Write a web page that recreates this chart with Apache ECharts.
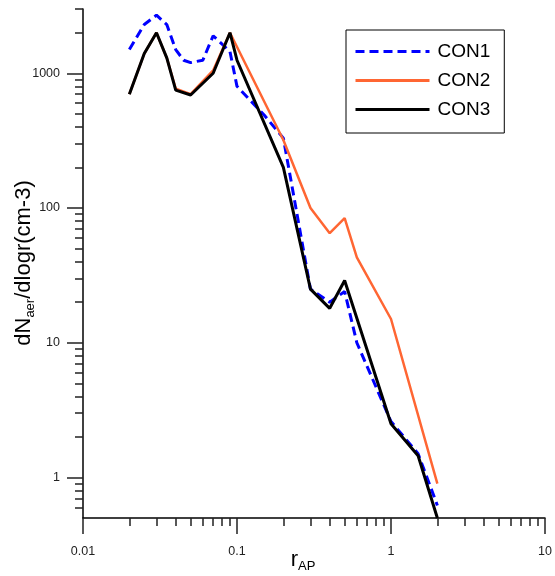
<!DOCTYPE html>
<html>
<head>
<meta charset="utf-8">
<script src="https://cdn.jsdelivr.net/npm/echarts@6/dist/echarts.min.js"></script>
<style>
html,body{margin:0;padding:0;background:#fff;}
#chart{width:555px;height:576px;}
</style>
</head>
<body>
<div id="chart"></div>
<script>
// ---- data ----
var seriesNames = ['CON1', 'CON2', 'CON3'];

var con1X = [0.02, 0.025, 0.03, 0.035, 0.04, 0.045, 0.05, 0.06, 0.07, 0.09, 0.1, 0.15, 0.2, 0.3, 0.4, 0.5, 0.6, 1, 1.5, 2];
var con1Y = [1500, 2300, 2700, 2300, 1500, 1250, 1200, 1250, 1900, 1450, 800, 490, 330, 25, 20, 24, 10, 2.6, 1.5, 0.62];

var con2X = [0.02, 0.025, 0.03, 0.035, 0.04, 0.05, 0.07, 0.09, 0.2, 0.3, 0.4, 0.5, 0.6, 1, 2];
var con2Y = [700, 1400, 2000, 1300, 770, 700, 1050, 2000, 320, 100, 65, 84, 43, 15, 0.9];

var con3X = [0.02, 0.025, 0.03, 0.035, 0.04, 0.05, 0.07, 0.09, 0.1, 0.2, 0.3, 0.4, 0.5, 1, 1.5, 2];
var con3Y = [700, 1400, 2000, 1300, 750, 690, 1000, 2000, 1250, 200, 25, 18, 29, 2.5, 1.45, 0.5];

var xMajorTicks = [0.01, 0.1, 1, 10];
var xMinorTicks = [0.02, 0.03, 0.04, 0.05, 0.06, 0.07, 0.08, 0.09,
                   0.2, 0.3, 0.4, 0.5, 0.6, 0.7, 0.8, 0.9,
                   2, 3, 4, 5, 6, 7, 8, 9];
var yMajorTicks = [1, 10, 100, 1000];
var yMinorTicks = [0.6, 0.7, 0.8, 0.9,
                   2, 3, 4, 5, 6, 7, 8, 9,
                   20, 30, 40, 50, 60, 70, 80, 90,
                   200, 300, 400, 500, 600, 700, 800, 900,
                   2000, 3000];

var xRange = [0.01, 10];
var yRange = [0.5, 3000];

// ---- build ----
function pairs(xs, ys) {
  var out = [];
  for (var i = 0; i < xs.length; i++) out.push([xs[i], ys[i]]);
  return out;
}

var FONT = 'Liberation Sans, Arial, sans-serif';
var chart = echarts.init(document.getElementById('chart'), null, {renderer: 'canvas'});

var option = {
  backgroundColor: '#ffffff',
  animation: false,
  grid: {left: 83, right: 10, top: 9, bottom: 58, containLabel: false},
  xAxis: [
    {
      type: 'log', logBase: 10, min: xRange[0], max: xRange[1], position: 'bottom',
      axisLine: {show: true, lineStyle: {color: '#000', width: 1.5}},
      axisTick: {show: true, length: 16, customValues: xMajorTicks, lineStyle: {color: '#222', width: 1.5}},
      axisLabel: {show: true, customValues: xMajorTicks, margin: 27, fontSize: 12.5, fontFamily: FONT, color: '#222',
        formatter: function (v) { return String(+v.toPrecision(6)); }},
      splitLine: {show: false}, minorTick: {show: false}
    },
    {
      type: 'log', logBase: 10, min: xRange[0], max: xRange[1], position: 'bottom', gridIndex: 0,
      axisLine: {show: false},
      axisTick: {show: true, length: 8, customValues: xMinorTicks, lineStyle: {color: '#222', width: 1.5}},
      axisLabel: {show: false},
      splitLine: {show: false}
    }
  ],
  yAxis: [
    {
      type: 'log', logBase: 10, min: yRange[0], max: yRange[1], position: 'left',
      axisLine: {show: true, lineStyle: {color: '#000', width: 1.5}},
      axisTick: {show: true, length: 16, customValues: yMajorTicks, lineStyle: {color: '#222', width: 1.5}},
      axisLabel: {show: true, customValues: yMajorTicks, margin: 23, fontSize: 12.5, fontFamily: FONT, color: '#222',
        formatter: function (v) { return String(+v.toPrecision(6)); }},
      splitLine: {show: false}
    },
    {
      type: 'log', logBase: 10, min: yRange[0], max: yRange[1], position: 'left', gridIndex: 0,
      axisLine: {show: false},
      axisTick: {show: true, length: 8, customValues: yMinorTicks, lineStyle: {color: '#222', width: 1.5}},
      axisLabel: {show: false},
      splitLine: {show: false}
    }
  ],
  legend: {
    orient: 'vertical',
    left: 346, top: 30,
    padding: [12, 14, 14, 8],
    itemWidth: 74, itemHeight: 20, itemGap: 10,
    borderColor: '#000', borderWidth: 1, backgroundColor: '#fff',
    itemStyle: {opacity: 0},
    lineStyle: {width: 3},
    textStyle: {fontSize: 19, fontFamily: FONT, color: '#000', padding: [0, 0, 0, 3]},
    data: seriesNames
  },
  graphic: [
    {
      type: 'text', x: 24, y: 263, rotation: Math.PI / 2,
      style: {
        text: '{n|dN}{s|aer}{n|/dlogr(cm-3)}',
        align: 'center', verticalAlign: 'middle', fill: '#000',
        rich: {
          n: {fontSize: 22, fontFamily: FONT, lineHeight: 26, fill: '#000'},
          s: {fontSize: 13, fontFamily: FONT, lineHeight: 13, verticalAlign: 'bottom', fill: '#000'}
        }
      }
    },
    {
      type: 'text', x: 303, y: 560,
      style: {
        text: '{n|r}{s|AP}',
        align: 'center', verticalAlign: 'middle', fill: '#000',
        rich: {
          n: {fontSize: 22, fontFamily: FONT, lineHeight: 26, fill: '#000'},
          s: {fontSize: 13, fontFamily: FONT, lineHeight: 13, verticalAlign: 'bottom', fill: '#000'}
        }
      }
    }
  ],
  series: [
    {
      name: seriesNames[0], type: 'line', xAxisIndex: 0, yAxisIndex: 0,
      data: pairs(con1X, con1Y), symbol: 'none', smooth: false,
      lineStyle: {color: '#0000ff', width: 3, type: [9, 5]},
      itemStyle: {color: '#0000ff'}, z: 2
    },
    {
      name: seriesNames[1], type: 'line', xAxisIndex: 0, yAxisIndex: 0,
      data: pairs(con2X, con2Y), symbol: 'none',
      lineStyle: {color: '#ff6633', width: 2.5, type: 'solid'},
      itemStyle: {color: '#ff6633'}, z: 3
    },
    {
      name: seriesNames[2], type: 'line', xAxisIndex: 0, yAxisIndex: 0,
      data: pairs(con3X, con3Y), symbol: 'none',
      lineStyle: {color: '#000000', width: 3, type: 'solid'},
      itemStyle: {color: '#000000'}, z: 4
    }
  ]
};
chart.setOption(option);
</script>
</body>
</html>
